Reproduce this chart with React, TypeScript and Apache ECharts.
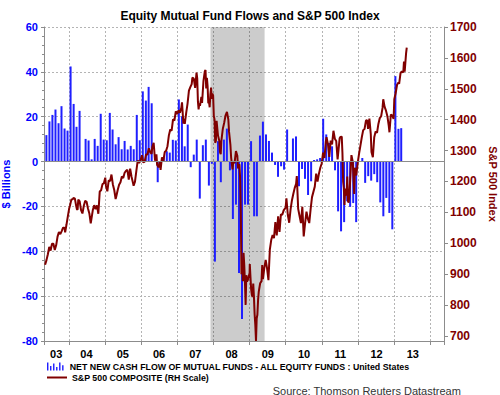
import React, { useEffect, useRef } from 'react';
import * as echarts from 'echarts';

const TITLE = 'Equity Mutual Fund Flows and S&P 500 Index';
const BAR_NAME = 'NET NEW CASH FLOW OF MUTUAL FUNDS - ALL EQUITY FUNDS : United States';
const LINE_NAME = 'S&P 500 COMPOSITE (RH Scale)';
const SOURCE = 'Source: Thomson Reuters Datastream';
const LEFT_AXIS_NAME = '$ Billions';
const RIGHT_AXIS_NAME = 'S&P 500 Index';

const YEAR_LABELS = [2003, 2004, 2005, 2006, 2007, 2008, 2009, 2010, 2011, 2012, 2013];
const RIGHT_TICKS = [700, 800, 900, 1000, 1100, 1200, 1300, 1400, 1500, 1600, 1700];
const RECESSION = ['2007-12-01', '2009-06-01'];

// monthly net new cash flow, $ billions (first month: May 2003)
const FLOW_FIRST_MONTH = [2003, 5];
const FLOWS_2003 = [11.8, 17.9, 20.8, 23.2, 17.1, 24.7, 14.7, 13.8];
const FLOWS_2004 = [42.4, 25.7, 15.5, 22.6, 0.1, 10.1, 9.4, 1.0, 10.1, 7.0, 21.3, 9.8];
const FLOWS_2005 = [9.5, 21.7, 14.3, 7.7, 10.9, 5.5, 9.2, 5.4, 7.0, 5.5, 20.8, 9.5];
const FLOWS_2006 = [31.3, 27.2, 33.3, 26.0, 0.3, -9.2, -1.0, 2.0, 4.6, 4.0, 9.7, 9.4];
const FLOWS_2007 = [27.7, 20.2, 6.8, 16.5, -2.5, 3.1, 9.8, -16.5, 7.3, 9.8, -10.7, -1.0];
const FLOWS_2008 = [-44.6, 9.1, -9.2, 9.8, 14.7, -3.9, -25.6, -19.2, -49.7, -70.2, -19.2, -19.2];
const FLOWS_2009 = [9.1, -24.4, -24.4, 11.6, 17.8, 12.1, 9.2, 4.0, -1.5, -6.8, -2.1, -3.6];
const FLOWS_2010 = [14.3, 0.3, 10.3, 11.2, -11.0, -3.3, -7.7, -14.9, -8.8, 0.7, 1.0, 1.6];
const FLOWS_2011 = [19.1, 12.1, 8.3, 6.8, -3.9, -22.2, -31.1, -27.0, -17.7, -20.2, -18.5, -27.0];
const FLOWS_2012 = [0.3, 1.6, -9.5, -6.5, -8.5, -5.6, -9.2, -18.2, -24.4, -16.2, -22.9, -30.2];
const FLOWS_2013 = [38.1, 14.6, 14.9];

// S&P 500 weekly closes
const SP_2003: [string, number][] = [
  ['2003-05-02', 930], ['2003-05-16', 945], ['2003-05-30', 964], ['2003-06-13', 988], ['2003-06-27', 976],
  ['2003-07-11', 998], ['2003-07-25', 998], ['2003-08-08', 978], ['2003-08-22', 993], ['2003-09-05', 1021],
  ['2003-09-19', 1036], ['2003-10-03', 1029], ['2003-10-17', 1039], ['2003-10-31', 1050], ['2003-11-14', 1050],
  ['2003-11-21', 1035], ['2003-12-05', 1061], ['2003-12-19', 1088], ['2003-12-31', 1111],
];
const SP_2004: [string, number][] = [
  ['2004-01-09', 1122], ['2004-01-23', 1141], ['2004-02-06', 1142], ['2004-02-13', 1146], ['2004-02-27', 1145],
  ['2004-03-12', 1120], ['2004-03-19', 1110], ['2004-03-26', 1108], ['2004-04-02', 1141], ['2004-04-16', 1135],
  ['2004-04-30', 1107], ['2004-05-14', 1096], ['2004-05-28', 1121], ['2004-06-11', 1137], ['2004-06-25', 1134],
  ['2004-07-09', 1112], ['2004-07-23', 1096], ['2004-08-06', 1064], ['2004-08-13', 1064], ['2004-08-27', 1107],
  ['2004-09-10', 1123], ['2004-09-24', 1110], ['2004-10-08', 1122], ['2004-10-22', 1095], ['2004-11-05', 1167],
  ['2004-11-19', 1171], ['2004-12-03', 1191], ['2004-12-17', 1194], ['2004-12-31', 1212],
];
const SP_2005: [string, number][] = [
  ['2005-01-07', 1186], ['2005-01-21', 1168], ['2005-02-04', 1203], ['2005-02-18', 1201], ['2005-03-04', 1222],
  ['2005-03-18', 1190], ['2005-04-01', 1172], ['2005-04-15', 1143], ['2005-04-22', 1152], ['2005-05-06', 1172],
  ['2005-05-20', 1189], ['2005-06-03', 1197], ['2005-06-17', 1216], ['2005-07-01', 1211], ['2005-07-15', 1228],
  ['2005-07-29', 1234], ['2005-08-12', 1237], ['2005-08-26', 1206], ['2005-09-09', 1241], ['2005-09-23', 1215],
  ['2005-10-07', 1196], ['2005-10-14', 1186], ['2005-10-28', 1199], ['2005-11-11', 1235], ['2005-11-25', 1268],
  ['2005-12-09', 1259], ['2005-12-23', 1268],
];
const SP_2006: [string, number][] = [
  ['2006-01-06', 1285], ['2006-01-20', 1261], ['2006-02-03', 1264], ['2006-02-17', 1287], ['2006-03-03', 1287],
  ['2006-03-17', 1307], ['2006-03-31', 1295], ['2006-04-14', 1289], ['2006-04-21', 1311], ['2006-05-05', 1325],
  ['2006-05-19', 1267], ['2006-06-02', 1288], ['2006-06-09', 1253], ['2006-06-16', 1251], ['2006-06-23', 1245],
  ['2006-07-07', 1265], ['2006-07-14', 1237], ['2006-07-28', 1278], ['2006-08-11', 1266], ['2006-08-25', 1295],
  ['2006-09-08', 1299], ['2006-09-22', 1314], ['2006-10-06', 1349], ['2006-10-20', 1368], ['2006-11-03', 1364],
  ['2006-11-17', 1401], ['2006-12-01', 1397], ['2006-12-15', 1427], ['2006-12-29', 1418],
];
const SP_2007: [string, number][] = [
  ['2007-01-12', 1430], ['2007-01-26', 1422], ['2007-02-09', 1438], ['2007-02-16', 1456], ['2007-03-02', 1387],
  ['2007-03-09', 1402], ['2007-03-16', 1386], ['2007-03-30', 1421], ['2007-04-13', 1452], ['2007-04-27', 1494],
  ['2007-05-11', 1505], ['2007-05-25', 1515], ['2007-06-01', 1536], ['2007-06-15', 1533], ['2007-06-29', 1503],
  ['2007-07-13', 1552], ['2007-07-20', 1534], ['2007-07-27', 1459], ['2007-08-03', 1433], ['2007-08-10', 1453],
  ['2007-08-17', 1445], ['2007-08-31', 1474], ['2007-09-07', 1454], ['2007-09-21', 1525], ['2007-10-05', 1557],
  ['2007-10-12', 1561], ['2007-10-19', 1501], ['2007-10-26', 1535], ['2007-11-02', 1509], ['2007-11-09', 1453],
  ['2007-11-16', 1458], ['2007-11-23', 1440], ['2007-11-30', 1481], ['2007-12-07', 1504], ['2007-12-14', 1467],
  ['2007-12-21', 1484], ['2007-12-28', 1478],
];
const SP_2008: [string, number][] = [
  ['2008-01-04', 1411], ['2008-01-11', 1401], ['2008-01-18', 1325], ['2008-01-25', 1331], ['2008-02-01', 1396],
  ['2008-02-15', 1349], ['2008-02-29', 1331], ['2008-03-07', 1294], ['2008-03-14', 1288], ['2008-03-20', 1330],
  ['2008-04-04', 1370], ['2008-04-18', 1390], ['2008-05-02', 1414], ['2008-05-16', 1425], ['2008-05-30', 1400],
  ['2008-06-06', 1361], ['2008-06-20', 1318], ['2008-06-27', 1278], ['2008-07-11', 1239], ['2008-07-18', 1261],
  ['2008-08-01', 1260], ['2008-08-15', 1298], ['2008-08-29', 1283], ['2008-09-05', 1242], ['2008-09-12', 1252],
  ['2008-09-19', 1255], ['2008-09-26', 1213], ['2008-10-03', 1100], ['2008-10-10', 899], ['2008-10-17', 940],
  ['2008-10-24', 877], ['2008-10-31', 969], ['2008-11-07', 930], ['2008-11-14', 873], ['2008-11-21', 800],
  ['2008-11-28', 896], ['2008-12-05', 876], ['2008-12-12', 879], ['2008-12-19', 888], ['2008-12-31', 903],
];
const SP_2009: [string, number][] = [
  ['2009-01-02', 932], ['2009-01-09', 890], ['2009-01-16', 850], ['2009-01-23', 832], ['2009-01-30', 826],
  ['2009-02-06', 869], ['2009-02-13', 827], ['2009-02-20', 770], ['2009-02-27', 735], ['2009-03-06', 683],
  ['2009-03-13', 756], ['2009-03-20', 768], ['2009-03-27', 816], ['2009-04-03', 843], ['2009-04-17', 870],
  ['2009-05-01', 877], ['2009-05-08', 929], ['2009-05-15', 883], ['2009-05-29', 919], ['2009-06-12', 946],
  ['2009-06-26', 918], ['2009-07-10', 880], ['2009-07-24', 979], ['2009-08-07', 1010], ['2009-08-21', 1026],
  ['2009-09-04', 1016], ['2009-09-18', 1068], ['2009-10-02', 1025], ['2009-10-16', 1087], ['2009-10-30', 1036],
  ['2009-11-13', 1093], ['2009-11-27', 1092], ['2009-12-11', 1106], ['2009-12-31', 1115],
];
const SP_2010: [string, number][] = [
  ['2010-01-08', 1145], ['2010-01-22', 1092], ['2010-02-05', 1066], ['2010-02-19', 1109], ['2010-03-05', 1139],
  ['2010-03-19', 1160], ['2010-04-02', 1179], ['2010-04-16', 1192], ['2010-04-23', 1217], ['2010-05-07', 1111],
  ['2010-05-21', 1088], ['2010-06-04', 1065], ['2010-06-18', 1118], ['2010-07-02', 1022], ['2010-07-16', 1065],
  ['2010-07-30', 1102], ['2010-08-13', 1079], ['2010-08-27', 1065], ['2010-09-10', 1110], ['2010-09-24', 1149],
  ['2010-10-08', 1166], ['2010-10-22', 1183], ['2010-11-05', 1225], ['2010-11-19', 1199], ['2010-12-03', 1225],
  ['2010-12-17', 1244], ['2010-12-31', 1258],
];
const SP_2011: [string, number][] = [
  ['2011-01-14', 1293], ['2011-01-28', 1276], ['2011-02-11', 1329], ['2011-02-18', 1343], ['2011-03-04', 1321],
  ['2011-03-18', 1279], ['2011-04-01', 1332], ['2011-04-15', 1320], ['2011-04-29', 1364], ['2011-05-13', 1338],
  ['2011-05-27', 1331], ['2011-06-10', 1271], ['2011-06-17', 1271], ['2011-07-01', 1340], ['2011-07-08', 1344],
  ['2011-07-22', 1345], ['2011-07-29', 1292], ['2011-08-05', 1199], ['2011-08-12', 1179], ['2011-08-19', 1124],
  ['2011-08-26', 1177], ['2011-09-09', 1154], ['2011-09-16', 1216], ['2011-09-23', 1136], ['2011-09-30', 1131],
  ['2011-10-07', 1155], ['2011-10-21', 1238], ['2011-10-28', 1285], ['2011-11-11', 1263], ['2011-11-25', 1159],
  ['2011-12-02', 1244], ['2011-12-16', 1219], ['2011-12-30', 1258],
];
const SP_2012: [string, number][] = [
  ['2012-01-13', 1289], ['2012-01-27', 1316], ['2012-02-10', 1343], ['2012-02-24', 1366], ['2012-03-09', 1370],
  ['2012-03-23', 1397], ['2012-04-05', 1398], ['2012-04-13', 1370], ['2012-04-27', 1403], ['2012-05-11', 1353],
  ['2012-05-18', 1295], ['2012-06-01', 1278], ['2012-06-15', 1343], ['2012-06-29', 1362], ['2012-07-13', 1357],
  ['2012-07-27', 1386], ['2012-08-10', 1405], ['2012-08-24', 1411], ['2012-09-07', 1438], ['2012-09-14', 1466],
  ['2012-09-28', 1441], ['2012-10-12', 1429], ['2012-10-26', 1411], ['2012-11-09', 1380], ['2012-11-16', 1359],
  ['2012-11-30', 1416], ['2012-12-14', 1414], ['2012-12-28', 1402],
];
const SP_2013: [string, number][] = [
  ['2013-01-04', 1466], ['2013-01-18', 1486], ['2013-02-01', 1513], ['2013-02-15', 1520], ['2013-02-22', 1516],
  ['2013-03-08', 1551], ['2013-03-22', 1556], ['2013-04-05', 1553], ['2013-04-12', 1588], ['2013-04-19', 1555],
  ['2013-05-03', 1614], ['2013-05-10', 1633],
];

const X_MIN = '2003-05-01';
const X_MAX = '2014-05-12';

const FONT = '"Liberation Sans", Arial, Helvetica, sans-serif';
const BLUE = '#0000ff';
const MAROON = '#800000';
const BAR_ICON =
  'path://M0,0h1.6v9h-1.6z M3.4,4h1.6v5h-1.6z M6.8,1h1.6v8h-1.6z M10.2,5h1.6v4h-1.6z M13.6,0h1.6v9h-1.6z M17,3h1.6v6h-1.6z';

function buildFlows(): [string, number][] {
  const all = [
    ...FLOWS_2003, ...FLOWS_2004, ...FLOWS_2005, ...FLOWS_2006, ...FLOWS_2007, ...FLOWS_2008,
    ...FLOWS_2009, ...FLOWS_2010, ...FLOWS_2011, ...FLOWS_2012, ...FLOWS_2013,
  ];
  let y = FLOW_FIRST_MONTH[0];
  let m = FLOW_FIRST_MONTH[1];
  return all.map((v) => {
    const d = `${y}-${String(m).padStart(2, '0')}-15`;
    m += 1;
    if (m > 12) { m = 1; y += 1; }
    return [d, v];
  });
}

export default function App() {
  const ref = useRef<HTMLDivElement>(null);
  useEffect(() => {
    document.body.style.margin = '0';
    if (!ref.current) return;
    const chart = echarts.init(ref.current, undefined, { renderer: 'svg' });
    const xMin = echarts.time.parse(X_MIN).getTime();
    const xMax = echarts.time.parse(X_MAX).getTime();
    const yearCenters = YEAR_LABELS.map((yr) => {
      const s = Math.max(new Date(yr, 0, 1).getTime(), xMin);
      const e = Math.min(new Date(yr + 1, 0, 1).getTime(), xMax);
      return (s + e) / 2;
    });
    const sp = [
      ...SP_2003, ...SP_2004, ...SP_2005, ...SP_2006, ...SP_2007, ...SP_2008,
      ...SP_2009, ...SP_2010, ...SP_2011, ...SP_2012, ...SP_2013,
    ];
    const axisGrey = '#8c8c8c';
    const option: any = {
      animation: false,
      textStyle: { fontFamily: FONT },
      title: [
        {
          text: TITLE, left: 'center', top: 5,
          textStyle: { fontFamily: FONT, fontSize: 12, fontWeight: 'bold', color: '#000' },
        },
        {
          text: SOURCE, right: 34, top: 380,
          textStyle: { fontFamily: FONT, fontSize: 11, fontWeight: 'normal', color: '#333' },
        },
      ],
      legend: [
        {
          data: [{ name: BAR_NAME, icon: BAR_ICON }],
          left: 47, top: 362, itemWidth: 19, itemHeight: 8, itemGap: 4, padding: 0,
          selectedMode: false,
          textStyle: { fontFamily: FONT, fontSize: 8.8, fontWeight: 'bold', color: '#000' },
        },
        {
          data: [{ name: LINE_NAME, icon: 'rect' }],
          left: 47, top: 373, itemWidth: 20, itemHeight: 2, padding: 0,
          selectedMode: false,
          textStyle: { fontFamily: FONT, fontSize: 8.8, fontWeight: 'bold', color: '#000' },
        },
      ],
      grid: { left: 44, right: 56, top: 27, bottom: 54, containLabel: false, outerBoundsMode: 'none' },
      xAxis: [
        {
          type: 'time', min: xMin, max: xMax, splitNumber: 11,
          axisLine: { show: true, onZero: false, lineStyle: { color: axisGrey } },
          axisTick: { show: true, length: 4, lineStyle: { color: axisGrey } },
          axisLabel: { show: false },
          splitLine: { show: true, lineStyle: { color: '#b4b4b4', type: [2, 2], width: 1 } },
        },
        {
          type: 'value', min: xMin, max: xMax, position: 'bottom',
          axisLine: { show: false }, axisTick: { show: false }, splitLine: { show: false },
          axisLabel: {
            show: true, customValues: yearCenters, margin: 7,
            formatter: (v: number) => String(new Date(v).getFullYear()).slice(2),
            fontFamily: FONT, fontSize: 11, fontWeight: 'bold', color: '#000',
          },
        },
      ],
      yAxis: [
        {
          type: 'value', min: -80, max: 60, interval: 20, position: 'left',
          name: LEFT_AXIS_NAME, nameLocation: 'middle', nameGap: 27,
          nameTextStyle: { fontFamily: FONT, fontSize: 11, fontWeight: 'bold', color: BLUE },
          axisLine: { show: true, lineStyle: { color: axisGrey } },
          axisTick: { show: true, length: 3, lineStyle: { color: axisGrey } },
          minorTick: { show: true, splitNumber: 5, length: 2, lineStyle: { color: axisGrey } },
          axisLabel: { fontFamily: FONT, fontSize: 11, fontWeight: 'bold', color: BLUE, margin: 6 },
          splitLine: { show: true, lineStyle: { color: '#b4b4b4', type: [2, 2], width: 1 } },
        },
        {
          type: 'value', min: 683, max: 1700, position: 'right',
          name: RIGHT_AXIS_NAME, nameLocation: 'middle', nameRotate: -90, nameGap: 40,
          nameTextStyle: { fontFamily: FONT, fontSize: 11, fontWeight: 'bold', color: MAROON },
          axisLine: { show: true, lineStyle: { color: axisGrey } },
          axisTick: { show: true, length: 4, customValues: RIGHT_TICKS, lineStyle: { color: axisGrey } },
          axisLabel: {
            customValues: RIGHT_TICKS, fontFamily: FONT, fontSize: 12, fontWeight: 'bold',
            color: MAROON, margin: 6, formatter: (v: number) => String(v),
          },
          splitLine: { show: false },
        },
      ],
      series: [
        {
          type: 'line', name: 'recession', data: [], z: 1, silent: true,
          markArea: {
            silent: true,
            itemStyle: { color: 'rgba(0,0,0,0.2)' },
            data: [[{ xAxis: RECESSION[0] }, { xAxis: RECESSION[1] }]],
          },
        },
        {
          type: 'bar', name: BAR_NAME, data: buildFlows(), barWidth: 2, z: 2,
          itemStyle: { color: '#1f1fff' },
          markLine: {
            silent: true, symbol: 'none', label: { show: false },
            lineStyle: { color: '#8c8c8c', type: 'solid', width: 1 },
            data: [{ yAxis: 0 }],
          },
        },
        {
          type: 'line', name: LINE_NAME, data: sp, yAxisIndex: 1, z: 3,
          showSymbol: false, symbol: 'none',
          lineStyle: { color: MAROON, width: 2 }, itemStyle: { color: MAROON },
        },
      ],
    };
    chart.setOption(option);
    return () => chart.dispose();
  }, []);
  return <div ref={ref} style={{ width: 500, height: 395 }} />;
}
